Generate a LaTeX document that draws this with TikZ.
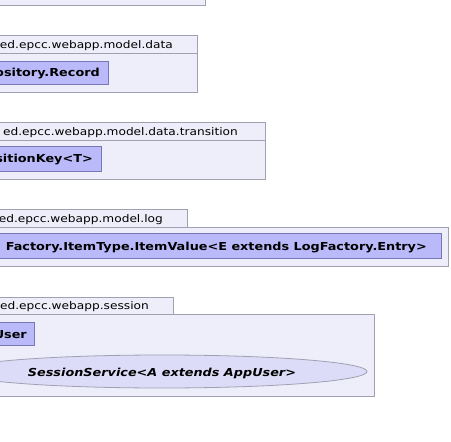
\documentclass[tikz,border=0pt]{standalone}
\usepackage{fontspec}
\usepackage{graphicx}
\setmainfont{DejaVu Sans}
\usetikzlibrary{shapes.geometric}
\definecolor{pkgfill}{RGB}{238,238,251}
\definecolor{pkgline}{RGB}{160,160,178}
\definecolor{clsfill}{RGB}{186,186,250}
\definecolor{clsline}{RGB}{120,120,185}
\definecolor{ellfill}{RGB}{220,220,248}
\newcommand\pkgtxt[1]{\scalebox{1.16}[1]{#1}}
\newcommand\clstxt[1]{\scalebox{1.165}[1]{#1}}
\begin{document}
\begin{tikzpicture}[x=1pt,y=-1pt,
  pkg/.style={draw=pkgline, fill=pkgfill, line width=0.8pt},
  cls/.style={draw=clsline, fill=clsfill, line width=0.8pt},
  pkgname/.style={anchor=east, inner sep=0pt, yshift=-1.5pt, font=\fontsize{10.5}{12}\selectfont},
  clsname/.style={anchor=east, inner sep=0pt, yshift=-1.5pt, font=\fontsize{11}{13}\selectfont\bfseries},
  ell/.style={ellipse, draw=pkgline, fill=ellfill, line width=0.8pt, inner sep=0pt}]
\useasboundingbox (0,0) rectangle (451,442);
\fill[white] (0,0) rectangle (451,442);
% top package (cut off)
\draw[pkg] (-60,-40) rectangle (205,5);
% model.data
\draw[pkg] (-60,35) rectangle (197,53);
\draw[pkg] (-60,53) rectangle (197,92);
\draw[cls] (-60,61) rectangle (108,84);
\node[pkgname] (n1) at (173,44) {\pkgtxt{ed.epcc.webapp.model.data}};
\node[clsname] (c1) at (100,72.5) {\clstxt{pository.Record}};
% model.data.transition
\draw[pkg] (-60,122) rectangle (265,140);
\draw[pkg] (-60,140) rectangle (265,179);
\draw[cls] (-60,146) rectangle (101,171);
\node[pkgname] (n2) at (238,131) {\pkgtxt{ed.epcc.webapp.model.data.transition}};
\node[clsname] (c2) at (93,158.5) {\clstxt{sitionKey<T>}};
% model.log
\draw[pkg] (-60,209) rectangle (187,227);
\draw[pkg] (-60,227) rectangle (448,266);
\draw[cls] (-60,233.5) rectangle (441,258.5);
\node[pkgname] (n3) at (163,218) {\pkgtxt{ed.epcc.webapp.model.log}};
\node[clsname] (c3) at (427,246) {\clstxt{Factory.ItemType.ItemValue<E extends LogFactory.Entry>}};
% session
\draw[pkg] (-60,297) rectangle (173,314);
\draw[pkg] (-60,314) rectangle (374,396);
\draw[cls] (-60,322) rectangle (34,345);
\node[pkgname] (n4) at (149,305.5) {\pkgtxt{ed.epcc.webapp.session}};
\node[clsname] (c4) at (27,333.5) {\clstxt{User}};
\node[ell, minimum width=410pt, minimum height=33pt] (e1) at (162,371.5) {};
\node[inner sep=0pt, yshift=-1.5pt, font=\fontsize{11}{13}\selectfont\bfseries\itshape] (t1) at (162,371.5) {\clstxt{SessionService<A extends AppUser>}};
\end{tikzpicture}
\end{document}
